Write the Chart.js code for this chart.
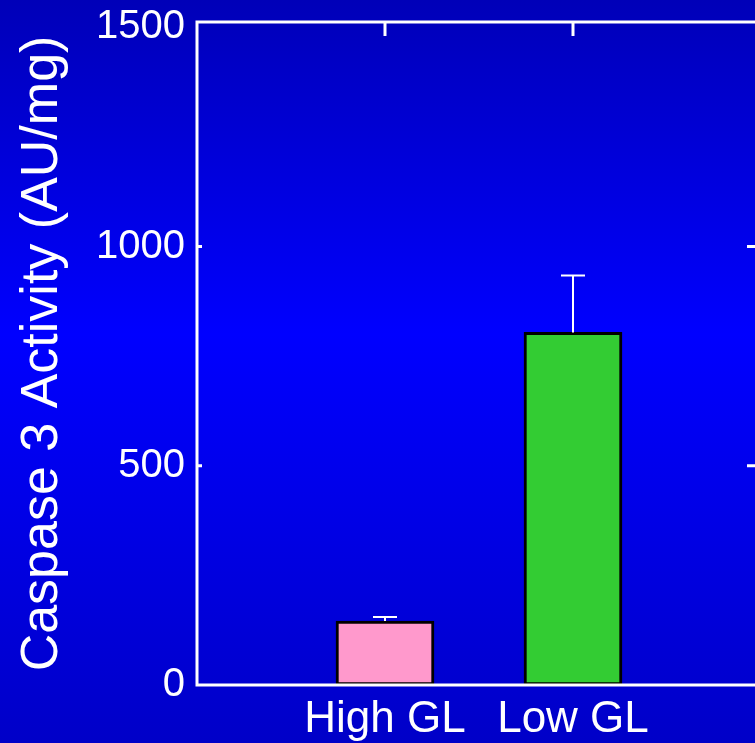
<!DOCTYPE html>
<html>
<head>
<meta charset="utf-8">
<script src="https://cdn.jsdelivr.net/npm/chart.js@4"></script>
<style>
  html, body { margin: 0; padding: 0; overflow: hidden; background: #0000d0; }
  canvas { display: block; }
</style>
</head>
<body>
<canvas id="myChart" width="763" height="743"></canvas>
<script>
// data
const categories = ['High GL', 'Low GL'];
const caspaseValues = [146, 804];
const caspaseErrors = [9, 130];
const barColors = ['#ff99cc', '#33cc33'];
const yTicks = [0, 500, 1000, 1500];

// pad the category axis with one empty slot on each side
const labels = [''].concat(categories, ['']);
const values = [null].concat(caspaseValues, [null]);
const colors = ['#000'].concat(barColors, ['#000']);

const backgroundPlugin = {
    id: 'background',
    beforeDraw(chart) {
        const ctx = chart.ctx;
        const g = ctx.createLinearGradient(0, 0, 0, chart.height);
        g.addColorStop(0, '#0000b8');
        g.addColorStop(0.45, '#0000ff');
        g.addColorStop(1, '#0000c8');
        ctx.save();
        ctx.fillStyle = g;
        ctx.fillRect(0, 0, chart.width, chart.height);
        ctx.restore();
    }
};

const errorBarPlugin = {
    id: 'errorBars',
    afterDatasetsDraw(chart) {
        const ctx = chart.ctx;
        const x = chart.scales.x;
        const y = chart.scales.y;
        ctx.save();
        ctx.strokeStyle = '#ffffff';
        ctx.lineWidth = 2;
        caspaseValues.forEach((v, i) => {
            const px = x.getPixelForValue(i + 1);
            const top = y.getPixelForValue(v + caspaseErrors[i]);
            const base = y.getPixelForValue(v);
            ctx.beginPath();
            ctx.moveTo(px, base);
            ctx.lineTo(px, top);
            ctx.moveTo(px - 12, top);
            ctx.lineTo(px + 12, top);
            ctx.stroke();
        });
        ctx.restore();
    }
};

const framePlugin = {
    id: 'frame',
    afterDraw(chart) {
        const ctx = chart.ctx;
        const a = chart.chartArea;
        const x = chart.scales.x;
        const y = chart.scales.y;
        ctx.save();
        ctx.strokeStyle = '#ffffff';
        ctx.lineWidth = 3;
        ctx.strokeRect(a.left, a.top, a.right - a.left, a.bottom - a.top);
        ctx.beginPath();
        // inward ticks on top for each category
        categories.forEach((c, i) => {
            const px = x.getPixelForValue(i + 1);
            ctx.moveTo(px, a.top);
            ctx.lineTo(px, a.top + 14);
        });
        // inward ticks on left and right
        [500, 1000].forEach(v => {
            const py = y.getPixelForValue(v);
            ctx.moveTo(a.right, py);
            ctx.lineTo(a.right - 14, py);
            ctx.moveTo(a.left, py);
            ctx.lineTo(a.left + 5, py);
        });
        ctx.stroke();
        ctx.restore();
    }
};

const ctx = document.getElementById('myChart').getContext('2d');
new Chart(ctx, {
    type: 'bar',
    data: {
        labels: labels,
        datasets: [{
            data: values,
            backgroundColor: colors,
            borderColor: '#000000',
            borderWidth: 3,
            borderSkipped: false,
            barThickness: 98
        }]
    },
    options: {
        responsive: false,
        animation: false,
        layout: { padding: { top: 22, right: 2, left: 0, bottom: 0 } },
        plugins: {
            legend: { display: false },
            tooltip: { enabled: false }
        },
        scales: {
            x: {
                offset: false,
                grid: { display: false, drawTicks: false },
                border: { display: false },
                ticks: {
                    color: '#ffffff',
                    font: { family: 'Liberation Sans, Arial, sans-serif', size: 44 },
                    padding: 8,
                    maxRotation: 0,
                    autoSkip: false
                },
                afterFit(scale) {
                    scale.height = 58;
                    scale.paddingLeft = 0;
                    scale.paddingRight = 0;
                }
            },
            y: {
                min: 0,
                max: 1512,
                grid: { display: false, drawTicks: false },
                border: { display: false },
                afterBuildTicks(scale) {
                    scale.ticks = yTicks.map(v => ({ value: v }));
                },
                ticks: {
                    color: '#ffffff',
                    font: { family: 'Liberation Sans, Arial, sans-serif', size: 40 },
                    padding: 12,
                    callback: value => String(value)
                },
                title: {
                    display: true,
                    text: 'Caspase 3 Activity (AU/mg)',
                    color: '#ffffff',
                    font: { family: 'Liberation Sans, Arial, sans-serif', size: 52 },
                    padding: { top: 11, bottom: 0 }
                },
                afterFit(scale) {
                    scale.width = 197;
                    scale.paddingTop = 0;
                    scale.paddingBottom = 0;
                }
            }
        }
    },
    plugins: [backgroundPlugin, errorBarPlugin, framePlugin]
});
</script>
</body>
</html>
